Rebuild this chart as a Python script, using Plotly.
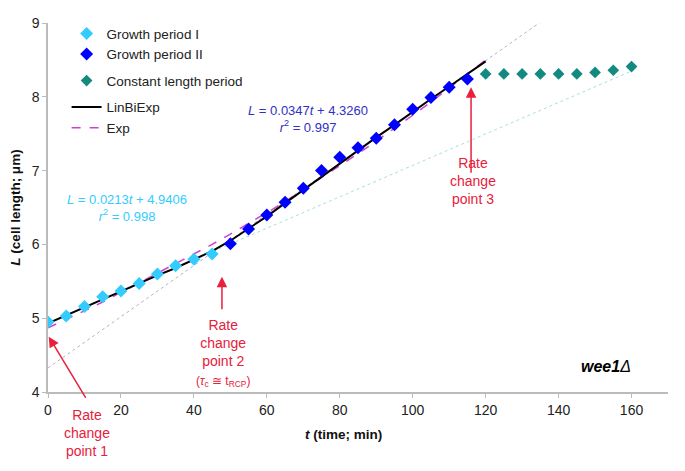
import plotly.graph_objects as go

# ---- data ----
t_g1 = [0, 5, 10, 15, 20, 25, 30, 35, 40, 45]
L_g1 = [4.95, 5.03, 5.16, 5.29, 5.37, 5.47, 5.60, 5.71, 5.80, 5.87]

t_g2 = [50, 55, 60, 65, 70, 75, 80, 85, 90, 95, 100, 105, 110, 115]
L_g2 = [6.01, 6.21, 6.40, 6.57, 6.76, 7.00, 7.18, 7.31, 7.44, 7.62, 7.83, 7.99, 8.13, 8.24]

t_c = [120, 125, 130, 135, 140, 145, 150, 155, 160]
L_c = [8.31, 8.31, 8.31, 8.31, 8.31, 8.31, 8.33, 8.36, 8.41]

t_fit = [0, 5, 10, 15, 20, 25, 30, 35, 40, 45, 50, 55, 60, 65, 70, 75, 80, 85, 90, 95, 100, 105, 110, 115, 120]
L_linbiexp = [4.93, 5.04, 5.15, 5.26, 5.37, 5.47, 5.58, 5.68, 5.79, 5.91, 6.05, 6.21, 6.38, 6.56, 6.74,
              6.92, 7.10, 7.28, 7.45, 7.62, 7.80, 7.97, 8.14, 8.31, 8.48]
L_exp = [4.87, 4.98, 5.10, 5.22, 5.35, 5.47, 5.60, 5.73, 5.86, 6.00, 6.14, 6.28, 6.43, 6.58, 6.74,
         6.90, 7.06, 7.23, 7.40, 7.57, 7.75, 7.93, 8.12, 8.31, 8.50]

# trend lines shown on the chart (slope, intercept, t range)
trend1 = dict(slope=0.0213, intercept=4.9406, t=[0, 160])
trend2 = dict(slope=0.0347, intercept=4.3260, t=[0, 140])

x_ticks = [0, 20, 40, 60, 80, 100, 120, 140, 160]
y_ticks = [4, 5, 6, 7, 8, 9]

FONT = "Liberation Sans, Arial, sans-serif"
RED = "#E8203C"
CYAN = "#33CCFF"
BLUE = "#0000FF"
TEAL = "#128A80"

fig = go.Figure()

for tr, col in [(trend1, "#A8E0E0"), (trend2, "#B8B0C8")]:
    fig.add_trace(go.Scatter(
        x=tr["t"], y=[tr["slope"] * v + tr["intercept"] for v in tr["t"]],
        mode="lines", line=dict(color=col, width=1, dash="dot"),
        showlegend=False, hoverinfo="skip"))

fig.add_trace(go.Scatter(x=t_fit, y=L_exp, mode="lines", name="Exp",
                         line=dict(color="#D040D0", width=1.5, dash="dash"),
                         legendrank=5, legendgroup="c"))
fig.add_trace(go.Scatter(x=t_fit, y=L_linbiexp, mode="lines", name="LinBiExp",
                         line=dict(color="black", width=2),
                         legendrank=4, legendgroup="c"))
fig.add_trace(go.Scatter(x=t_g1, y=L_g1, mode="markers", name="Growth period I",
                         marker=dict(symbol="diamond", size=10, color=CYAN),
                         legendrank=1, legendgroup="a"))
fig.add_trace(go.Scatter(x=t_g2, y=L_g2, mode="markers", name="Growth period II",
                         marker=dict(symbol="diamond", size=10, color=BLUE),
                         legendrank=2, legendgroup="a"))
fig.add_trace(go.Scatter(x=t_c, y=L_c, mode="markers", name="Constant length period",
                         marker=dict(symbol="diamond", size=9, color=TEAL),
                         legendrank=3, legendgroup="b"))

ann = []
ann.append(dict(x=21.6, y=6.50, xref="x", yref="y", showarrow=False,
                text="<i>L</i> = 0.0213<i>t</i> + 4.9406<br><i>r</i><sup>2</sup> = 0.998",
                font=dict(family=FONT, size=13, color=CYAN), align="center"))
ann.append(dict(x=71.4, y=7.70, xref="x", yref="y", showarrow=False,
                text="<i>L</i> = 0.0347<i>t</i> + 4.3260<br><i>r</i><sup>2</sup> = 0.997",
                font=dict(family=FONT, size=13, color="#3030C8"), align="center"))
# rate change point labels
ann.append(dict(x=116.4, y=6.86, xref="x", yref="y", showarrow=False,
                text="Rate<br>change<br>point 3",
                font=dict(family=FONT, size=14, color=RED), align="center"))
ann.append(dict(x=47.9, y=4.53, xref="x", yref="y", showarrow=False,
                text="Rate<br>change<br>point 2<br><span style='font-size:12px'>(<i>τ</i><sub>c</sub> ≅ t<sub>RCP</sub>)</span>",
                font=dict(family=FONT, size=14, color=RED), align="center"))
ann.append(dict(x=10.6, y=-0.11, xref="x", yref="paper", showarrow=False, yanchor="middle",
                text="Rate<br>change<br>point 1",
                font=dict(family=FONT, size=14, color=RED), align="center"))
# arrows
for (x0, y0, x1, y1) in [(116.0, 6.95, 116.0, 8.13), (47.7, 5.10, 47.7, 5.56), (10.6, 3.90, 0.2, 4.75)]:
    ann.append(dict(x=x1, y=y1, ax=x0, ay=y0, xref="x", yref="y", axref="x", ayref="y",
                    text="", showarrow=True, arrowhead=2, arrowsize=1.4, arrowwidth=1.5,
                    arrowcolor=RED))
ann.append(dict(x=160.4, y=4.34, xref="x", yref="y", showarrow=False, xanchor="right",
                text="<b><i>wee1</i></b><i>Δ</i>",
                font=dict(family=FONT, size=16, color="black")))
# x-axis title (placed like the reference, left of centre)
ann.append(dict(x=0.476, y=-0.1165, xref="paper", yref="paper", showarrow=False,
                xanchor="center", yanchor="middle",
                text="<b><i>t</i> (time; min)</b>",
                font=dict(family=FONT, size=13.5, color="#111111")))

fig.update_layout(
    width=677, height=463,
    margin=dict(l=40, r=17, t=15, b=79, autoexpand=False),
    paper_bgcolor="white", plot_bgcolor="white",
    font=dict(family=FONT, size=13, color="#222222"),
    annotations=ann,
    legend=dict(x=0.03, y=0.978, xanchor="left", yanchor="top", yref="container",
                bgcolor="rgba(0,0,0,0)", font=dict(family=FONT, size=13.5, color="#222222"),
                tracegroupgap=6, traceorder="grouped"),
    xaxis=dict(range=[0, 170], tickvals=x_ticks, showgrid=False, zeroline=False,
               showline=True, linecolor="#BBBBBB", linewidth=1.5, automargin=False,
               ticks="outside", ticklen=4, tickcolor="#BBBBBB",
               tickfont=dict(family=FONT, size=14, color="#222222")),
    yaxis=dict(range=[4, 9], tickvals=y_ticks, showgrid=False, zeroline=False,
               showline=True, linecolor="#BBBBBB", linewidth=1.5, automargin=False,
               ticks="outside", ticklen=4, tickcolor="#BBBBBB",
               tickfont=dict(family=FONT, size=14, color="#222222"),
               title=dict(text="<b><i>L</i> (cell length; μm)</b>", standoff=10,
                          font=dict(family=FONT, size=13.5, color="#111111"))),
)

fig.write_html("out.html")
